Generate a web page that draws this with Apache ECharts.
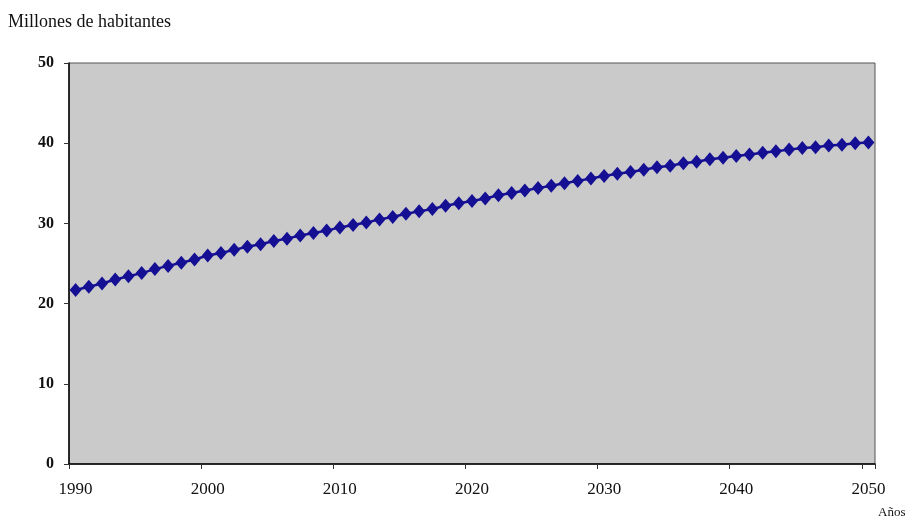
<!DOCTYPE html>
<html>
<head>
<meta charset="utf-8">
<script src="https://cdn.jsdelivr.net/npm/echarts@6/dist/echarts.min.js"></script>
<style>
  html, body { margin: 0; padding: 0; background: #ffffff; }
  #chart { width: 911px; height: 527px; }
</style>
</head>
<body>
<div id="chart"></div>
<script>
// Población total por año (millones de habitantes), 1990–2050
const years = [];
for (let y = 1990; y <= 2050; y++) years.push(String(y));

const population = [
  21.7, 22.1, 22.5, 23.0, 23.4, 23.8, 24.3, 24.7, 25.1, 25.5,
  26.0, 26.3, 26.7, 27.1, 27.4, 27.8, 28.1, 28.5, 28.8, 29.1,
  29.5, 29.8, 30.1, 30.5, 30.8, 31.2, 31.5, 31.8, 32.2, 32.5,
  32.8, 33.1, 33.5, 33.8, 34.1, 34.4, 34.7, 35.0, 35.3, 35.6,
  35.9, 36.2, 36.4, 36.7, 37.0, 37.2, 37.5, 37.7, 38.0, 38.2,
  38.4, 38.6, 38.8, 39.0, 39.2, 39.4, 39.5, 39.7, 39.8, 40.0,
  40.1
];

const yTicks = [0, 10, 20, 30, 40, 50];

const serif = '"Liberation Serif", "DejaVu Serif", serif';
const chart = echarts.init(document.getElementById('chart'), null, { renderer: 'canvas' });

chart.setOption({
  animation: false,
  backgroundColor: '#ffffff',
  grid: {
    left: 69, right: 36, top: 63, bottom: 63,
    show: true,
    backgroundColor: '#cacaca',
    borderColor: '#555555',
    borderWidth: 1
  },
  graphic: [
    {
      type: 'text', left: 8, top: 13,
      style: { text: 'Millones de habitantes', font: '18px ' + serif, fill: '#111111' }
    },
    {
      type: 'text', left: 878, top: 506,
      style: { text: 'Años', font: '13px ' + serif, fill: '#111111' }
    }
  ],
  xAxis: {
    type: 'category',
    data: years,
    boundaryGap: true,
    axisLine: { show: true, lineStyle: { color: '#000000', width: 1.5 } },
    axisTick: { show: true, interval: 9, length: 5, lineStyle: { color: '#333333' } },
    axisLabel: {
      interval: 9,
      margin: 17,
      fontFamily: serif,
      fontSize: 17,
      color: '#111111'
    },
    splitLine: { show: false }
  },
  yAxis: {
    type: 'value',
    min: yTicks[0],
    max: yTicks[yTicks.length - 1],
    interval: 10,
    axisLine: { show: true, lineStyle: { color: '#000000', width: 1.5 } },
    axisTick: { show: true, length: 5, lineStyle: { color: '#333333' } },
    axisLabel: {
      margin: 15,
      fontFamily: serif,
      fontSize: 16,
      fontWeight: 'bold',
      color: '#111111'
    },
    splitLine: { show: false }
  },
  series: [{
    type: 'line',
    data: population,
    symbol: 'diamond',
    symbolSize: [12, 14],
    showAllSymbol: true,
    lineStyle: { color: '#150f94', width: 2.5 },
    itemStyle: { color: '#150f94' }
  }]
});
</script>
</body>
</html>
